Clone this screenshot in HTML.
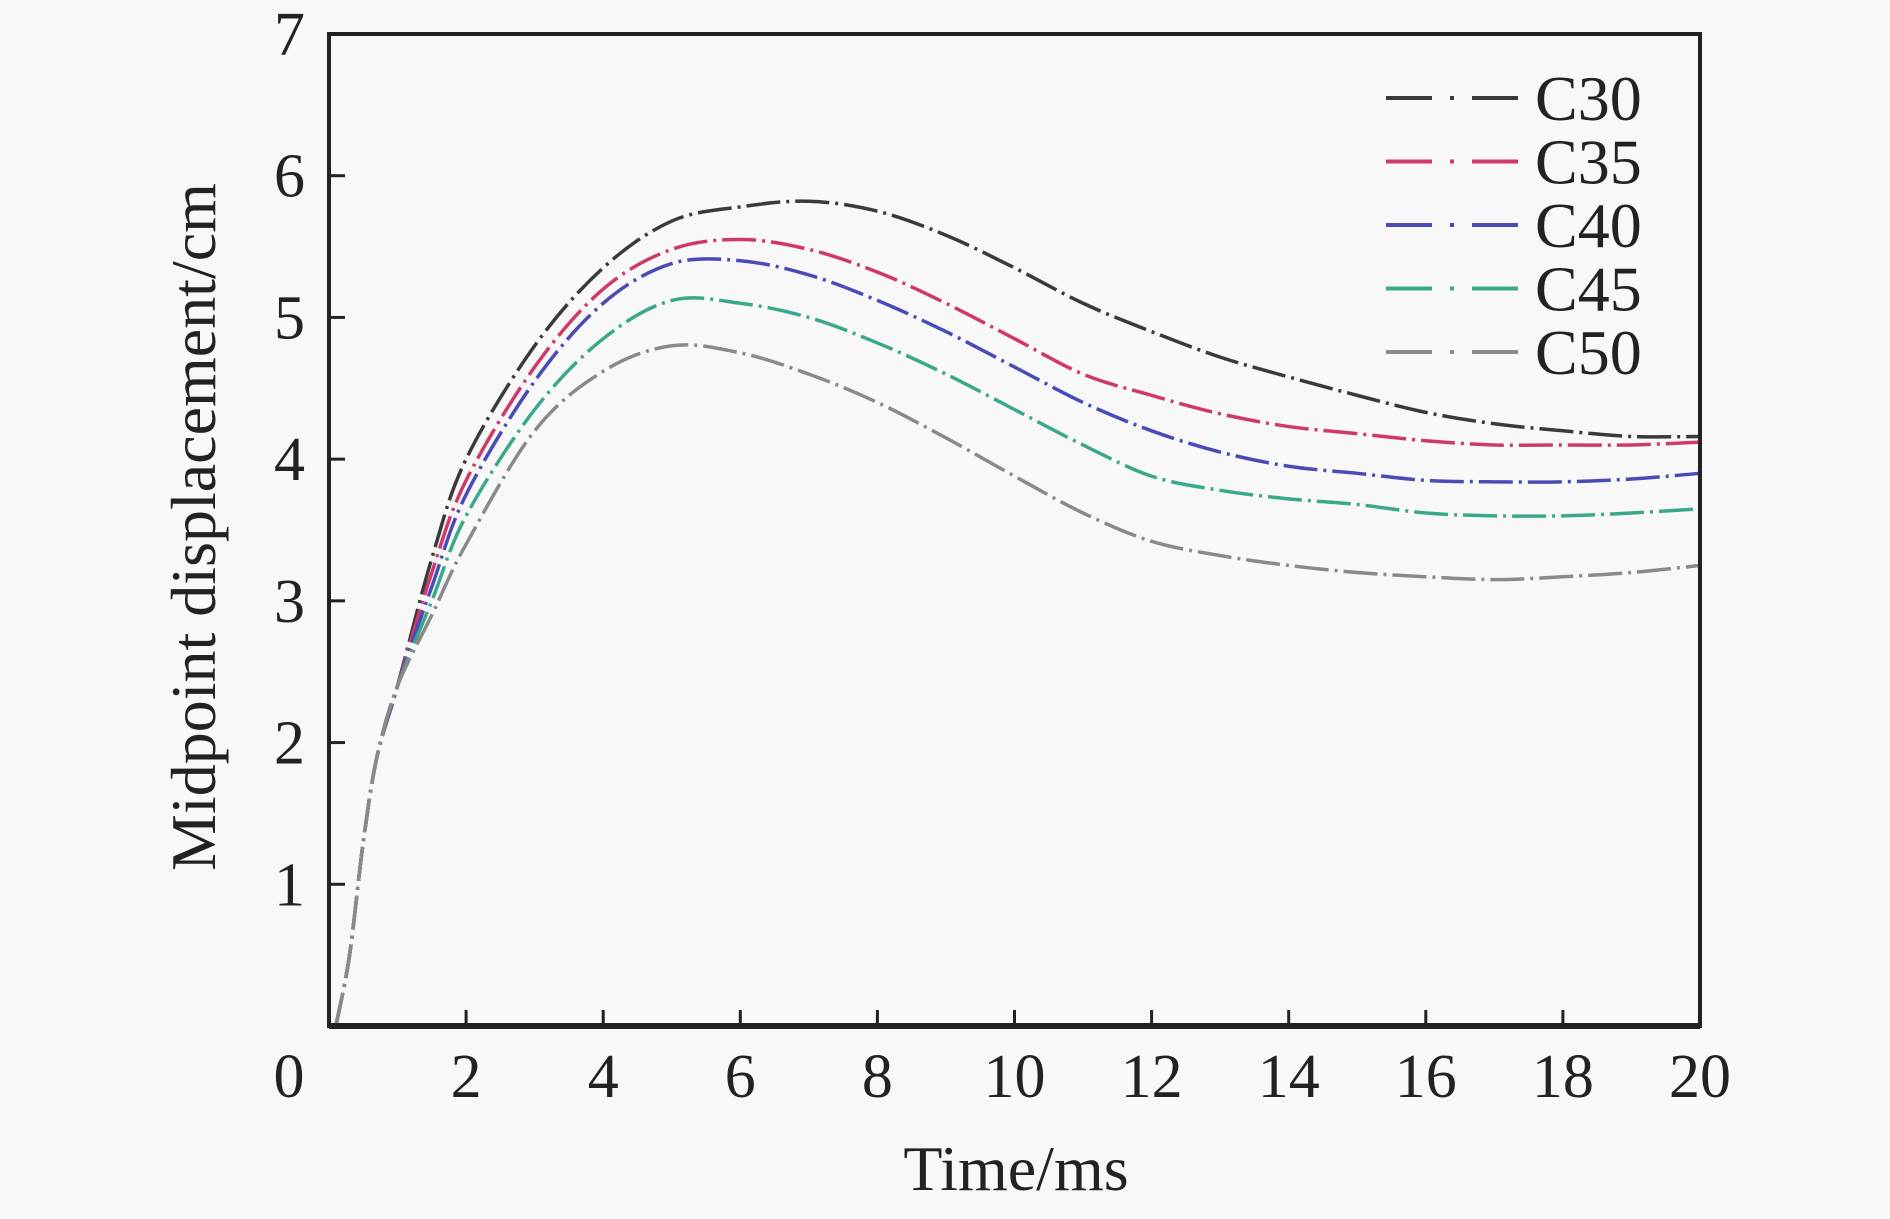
<!DOCTYPE html>
<html><head><meta charset="utf-8"><style>
html,body{margin:0;padding:0;background:#f8f8f8;}
svg text{font-family:"Liberation Serif",serif;fill:#222;}
</style></head><body>
<svg width="1890" height="1214" viewBox="0 0 1890 1214">
<g id="marks"></g>
<rect x="329" y="34" width="1371" height="992" fill="none" stroke="#222" stroke-width="4"/>
<line x1="329" x2="1700" y1="1026" y2="1026" stroke="#222" stroke-width="6"/>
<g id="axes"></g>
<text x="1016" y="1190" font-size="64" text-anchor="middle">Time/ms</text>
<text transform="translate(215,527) rotate(-90)" font-size="64" text-anchor="middle">Midpoint displacement/cm</text>
<g id="legend"></g>
</svg>
<script>
const times=[0.1,0.3,0.5,0.7,1,1.5,2,3,4,5,6,7,8,9,10,11,12,13,14,15,16,17,18,19,20];
const names=["C30","C35","C40","C45","C50"];
const colors=["#3a3a3a","#d0386a","#4a4ab8","#3aa88a","#8a8a8a"];
const head=[0,0.5,1.3,1.9,2.4];
const c30=[3.3,4.0,4.8,5.35,5.68,5.78,5.82,5.75,5.58,5.35,5.1,4.9,4.72,4.58,4.45,4.33,4.25,4.2,4.16,4.16];
const c35=[3.2,3.85,4.65,5.2,5.48,5.55,5.48,5.32,5.1,4.85,4.6,4.45,4.32,4.23,4.18,4.13,4.1,4.1,4.1,4.12];
const c40=[3.1,3.75,4.55,5.1,5.38,5.4,5.3,5.12,4.9,4.65,4.4,4.2,4.05,3.95,3.9,3.85,3.84,3.84,3.86,3.9];
const c45=[3.0,3.6,4.35,4.85,5.12,5.1,5.0,4.82,4.6,4.35,4.1,3.88,3.78,3.72,3.68,3.62,3.6,3.6,3.62,3.65];
const c50=[2.9,3.4,4.2,4.62,4.8,4.75,4.6,4.4,4.15,3.88,3.62,3.42,3.32,3.25,3.2,3.17,3.15,3.17,3.2,3.25];
const xTicks=[0,2,4,6,8,10,12,14,16,18,20];
const yTicks=[1,2,3,4,5,6,7];
const NS="http://www.w3.org/2000/svg";
const X=t=>329+t*1371/20, Y=v=>1026-v*992/7;
function el(tag,attrs,parent){const e=document.createElementNS(NS,tag);for(const k in attrs)e.setAttribute(k,attrs[k]);parent.appendChild(e);return e;}
function path(pts){let d="M"+pts[0][0]+","+pts[0][1];for(let i=0;i<pts.length-1;i++){const p0=pts[i-1]||pts[i],p1=pts[i],p2=pts[i+1],p3=pts[i+2]||p2;
d+=" C"+(p1[0]+(p2[0]-p0[0])/6)+","+(p1[1]+(p2[1]-p0[1])/6)+" "+(p2[0]-(p3[0]-p1[0])/6)+","+(p2[1]-(p3[1]-p1[1])/6)+" "+p2[0]+","+p2[1];}return d;}
const marks=document.getElementById('marks');
[c30,c35,c40,c45,c50].forEach((s,i)=>{const vals=head.concat(s);const pts=times.map((t,j)=>[X(t),Y(vals[j])]);
const p=el('path',{d:path(pts),fill:"none",stroke:colors[i],"stroke-width":3.5,"stroke-dasharray":"34 6 3 6"},marks);

});
const axes=document.getElementById('axes');
xTicks.forEach(t=>{if(t>0&&t<20){const l=el('line',{x1:X(t),x2:X(t),y1:1026,y2:1010,stroke:"#222","stroke-width":3},axes);

}
const tx=el('text',{x:t===0?X(t)-40:X(t),y:1097,"font-size":62,"text-anchor":"middle"},axes);tx.textContent=t;

});
yTicks.forEach(v=>{if(v<7){const l=el('line',{x1:329,x2:345,y1:Y(v),y2:Y(v),stroke:"#222","stroke-width":3},axes);

}
const tx=el('text',{x:305,y:Y(v)+21,"font-size":62,"text-anchor":"end"},axes);tx.textContent=v;

});
const lg=document.getElementById('legend');
names.forEach((n,i)=>{const y=98+i*63.5;const g=el('g',{},lg);


el('line',{x1:1386,x2:1520,y1:y,y2:y,stroke:colors[i],"stroke-width":4,"stroke-dasharray":"46 18 4 18"},g);
const t=el('text',{x:1535,y:y+22,"font-size":64},g);t.textContent=n;});
</script>
</body></html>
